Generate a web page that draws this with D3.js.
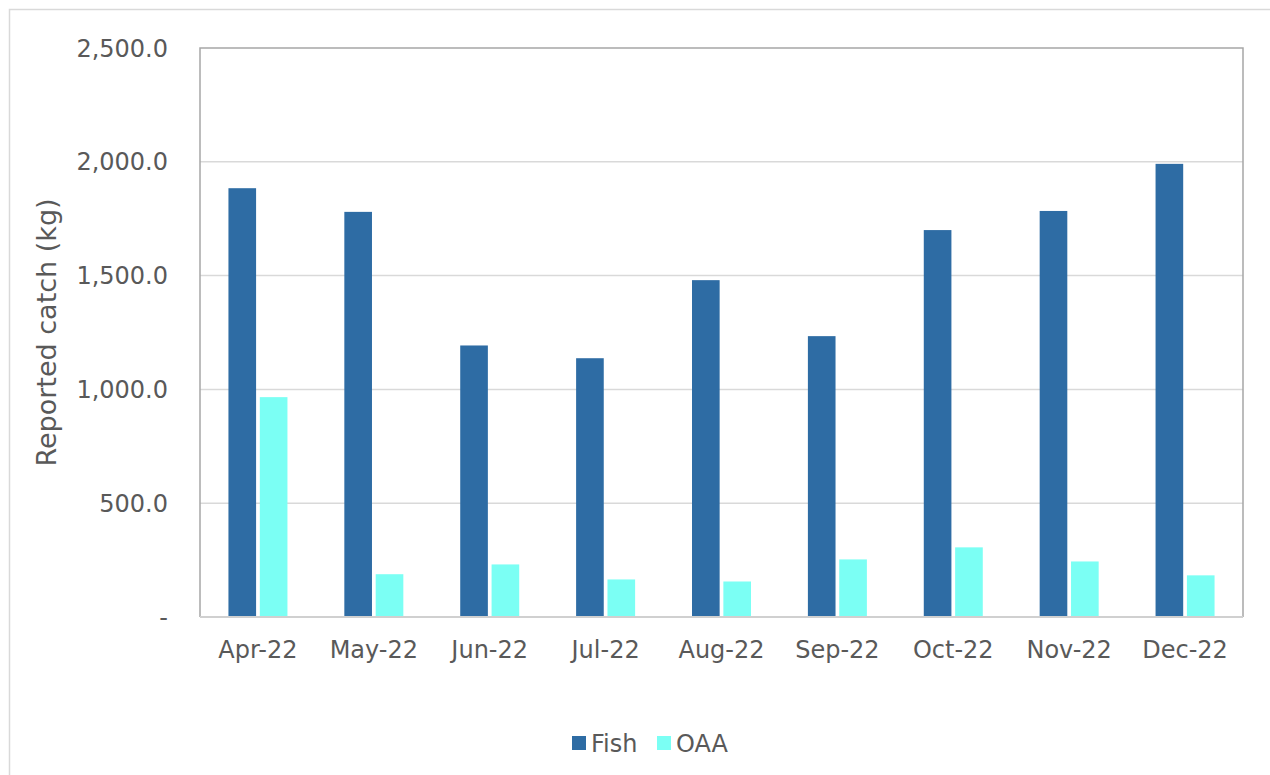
<!DOCTYPE html>
<html>
<head>
<meta charset="utf-8">
<script src="https://cdn.jsdelivr.net/npm/d3@7"></script>
<style>
  body { margin: 0; background: #fff; }
  text { font-family: "DejaVu Sans", Verdana, sans-serif; fill: #595959; }
</style>
</head>
<body>
<script>
// data
const months = ["Apr-22", "May-22", "Jun-22", "Jul-22", "Aug-22", "Sep-22", "Oct-22", "Nov-22", "Dec-22"];
const fish = [1884, 1780, 1193, 1137, 1480, 1234, 1700, 1784, 1991];
const oaa = [966, 188, 231, 165, 156, 253, 306, 244, 183];
const seriesNames = ["Fish", "OAA"];
const colors = ["#2E6CA4", "#7BFFF4"];
const yTicks = [0, 500, 1000, 1500, 2000, 2500];

const width = 1270, height = 775;
const margin = {left: 200, right: 27, top: 48, bottom: 158};
const plotW = width - margin.left - margin.right;
const plotH = height - margin.top - margin.bottom;

const svg = d3.select("body").append("svg")
  .attr("width", width)
  .attr("height", height);

// outer chart frame
svg.append("rect")
  .attr("x", 9.5).attr("y", 9.5)
  .attr("width", 1300).attr("height", 1000)
  .attr("fill", "none")
  .attr("stroke", "#d9d9d9")
  .attr("stroke-width", 1.5);

const g = svg.append("g").attr("transform", `translate(${margin.left},${margin.top})`);

const x0 = d3.scaleBand().domain(months).range([0, plotW]).paddingInner(0).paddingOuter(0);
const x1 = d3.scaleBand().domain(seriesNames).range([0, 59]).paddingInner(7 / 59);
const y = d3.scaleLinear().domain([0, 2500]).range([plotH, 0]);

// gridlines
g.selectAll(".grid").data(yTicks.slice(1, -1)).join("line")
  .attr("x1", 0).attr("x2", plotW)
  .attr("y1", d => y(d)).attr("y2", d => y(d))
  .attr("stroke", "#d9d9d9")
  .attr("stroke-width", 1.5);

// y tick labels
const fmt = d => d === 0 ? "-" : d3.format(",.1f")(d);
g.selectAll(".ylab").data(yTicks).join("text")
  .attr("x", -32)
  .attr("y", d => y(d))
  .attr("dy", "0.36em")
  .attr("text-anchor", "end")
  .attr("font-size", 24)
  .text(fmt);

// bars
const rows = months.map((m, i) => ({month: m, vals: [fish[i], oaa[i]]}));
const groups = g.selectAll(".grp").data(rows).join("g")
  .attr("transform", d => `translate(${x0(d.month) + (x0.bandwidth() - 59) / 2},0)`);

groups.selectAll("rect").data(d => d.vals.map((v, j) => ({name: seriesNames[j], v, j}))).join("rect")
  .attr("x", d => x1(d.name))
  .attr("width", x1.bandwidth())
  .attr("y", d => y(d.v))
  .attr("height", d => y(0) - y(d.v))
  .attr("fill", d => colors[d.j]);

// plot border
g.append("path")
  .attr("d", `M0,${plotH}V0H${plotW}V${plotH}`)
  .attr("fill", "none")
  .attr("stroke", "#a6a6a6")
  .attr("stroke-width", 1.5);
g.append("line")
  .attr("x1", 0).attr("x2", plotW)
  .attr("y1", plotH).attr("y2", plotH)
  .attr("stroke", "#d0d0d0")
  .attr("stroke-width", 2);

// x labels
g.selectAll(".xlab").data(months).join("text")
  .attr("x", d => x0(d) + x0.bandwidth() / 2)
  .attr("y", plotH + 41)
  .attr("text-anchor", "middle")
  .attr("font-size", 24)
  .text(d => d);

// y axis title
svg.append("text")
  .attr("transform", `translate(56,${margin.top + plotH / 2}) rotate(-90)`)
  .attr("text-anchor", "middle")
  .attr("font-size", 27)
  .text("Reported catch (kg)");

// legend
const legend = svg.append("g").attr("transform", "translate(572,736)");
const legX = [0, 85];
seriesNames.forEach((n, i) => {
  legend.append("rect")
    .attr("x", legX[i]).attr("y", 0)
    .attr("width", 14).attr("height", 14)
    .attr("fill", colors[i]);
  legend.append("text")
    .attr("x", legX[i] + 19).attr("y", 7)
    .attr("dy", "0.36em")
    .attr("font-size", 24)
    .text(n);
});
</script>
</body>
</html>
